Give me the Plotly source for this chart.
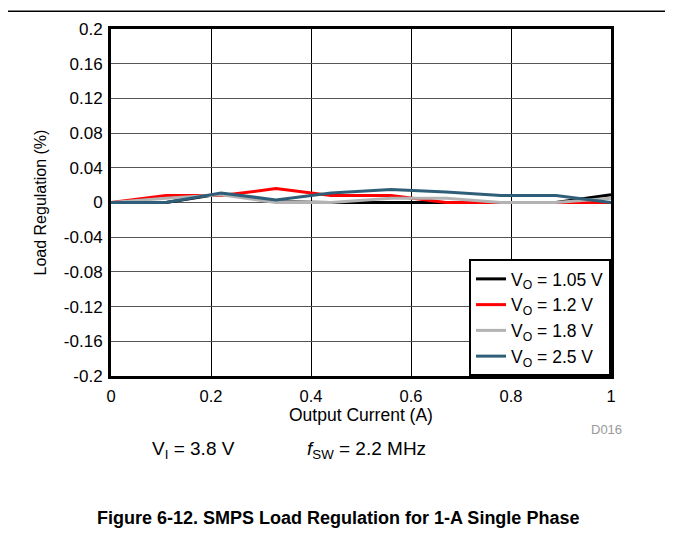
import plotly.graph_objects as go

# output current (A)
current = [0, 0.11, 0.22, 0.33, 0.44, 0.56, 0.67, 0.78, 0.89, 1.0]

# load regulation (%) per output voltage
reg_105 = [0, 0, 0.010, 0.001, 0, 0, 0, 0, 0, 0.009]
reg_12 = [0, 0.008, 0.008, 0.016, 0.008, 0.008, 0, 0, 0, 0]
reg_18 = [0, 0.005, 0.009, 0, 0, 0.005, 0.005, 0, 0, 0.005]
reg_25 = [0, 0, 0.011, 0.003, 0.011, 0.015, 0.012, 0.008, 0.008, 0]

series_names = ['V<sub>O</sub> = 1.05 V', 'V<sub>O</sub> = 1.2 V',
                'V<sub>O</sub> = 1.8 V', 'V<sub>O</sub> = 2.5 V']
series_colors = ['#000000', '#ff0000', '#b3b3b3', '#2f5f78']

y_ticks = [0.2, 0.16, 0.12, 0.08, 0.04, 0, -0.04, -0.08, -0.12, -0.16, -0.2]
y_labels = ['0.2', '0.16', '0.12', '0.08', '0.04', '0', '-0.04', '-0.08',
            '-0.12', '-0.16', '-0.2']
x_ticks = [0, 0.2, 0.4, 0.6, 0.8, 1]
x_labels = ['0', '0.2', '0.4', '0.6', '0.8', '1']

FONT = 'Arial, Liberation Sans, sans-serif'

fig = go.Figure()
for ys, name, color in zip([reg_105, reg_12, reg_18, reg_25], series_names, series_colors):
    fig.add_trace(go.Scatter(x=current, y=ys, mode='lines', name=name,
                             line=dict(color=color, width=3)))

fig.update_xaxes(range=[0, 1], tickvals=x_ticks, ticktext=x_labels,
                 showgrid=True, gridcolor='#000000', gridwidth=1,
                 showline=True, linecolor='#000000', linewidth=3, mirror=True,
                 zeroline=False, ticks='', ticklabelstandoff=3,
                 tickfont=dict(size=16.5, color='#000'))
fig.update_yaxes(range=[-0.2, 0.2], tickvals=y_ticks, ticktext=y_labels,
                 showgrid=True, gridcolor='#555555', gridwidth=1,
                 showline=True, linecolor='#000000', linewidth=3, mirror=True,
                 zeroline=False, ticks='', ticklabelstandoff=2,
                 tickfont=dict(size=17, color='#000'))

# positions below are page pixels converted to paper coords (plot 111..611, 22..376)
annotations = [
    dict(text='Output Current (A)', x=0.5, y=(376 - 416) / 354, font_size=17.5),
    dict(text='Load Regulation (%)', x=(40 - 111) / 500, y=0.5, textangle=-90,
         font_size=16),
    dict(text='D016', x=(606 - 111) / 500, y=(376 - 431) / 354, font_size=13,
         font_color='#999999'),
    dict(text='V<sub>I</sub> = 3.8 V', x=(193 - 111) / 500, y=(376 - 452) / 354,
         font_size=19),
    dict(text='<i>f</i><sub>SW</sub> = 2.2 MHz', x=(366 - 111) / 500,
         y=(376 - 452) / 354, font_size=19),
    dict(text='<b>Figure 6-12. SMPS Load Regulation for 1-A Single Phase</b>',
         x=(338 - 111) / 500, y=(376 - 521) / 354, font_size=18),
]
for a in annotations:
    a.update(xref='paper', yref='paper', showarrow=False,
             xanchor='center', yanchor='middle')
    a.setdefault('font_color', '#000000')

# page body has an 8px margin, so the figure is 8px smaller and offset
fig.update_layout(
    width=665, height=542,
    margin=dict(l=103, r=62, t=14, b=174),
    paper_bgcolor='white', plot_bgcolor='white',
    font=dict(family=FONT, color='#000000'),
    showlegend=True,
    legend=dict(x=1, y=0, xanchor='right', yanchor='bottom',
                bgcolor='white', bordercolor='#000000', borderwidth=2,
                font=dict(size=17.5), tracegroupgap=0, itemwidth=30),
    annotations=annotations,
    shapes=[
        dict(type='line', xref='paper', yref='paper', x0=-0.3, x1=1.2,
             y0=(376 - 4) / 354, y1=(376 - 4) / 354,
             line=dict(color='#000000', width=1.5)),
        dict(type='line', xref='paper', yref='paper',
             x0=(671 - 111) / 500, x1=(671 - 111) / 500,
             y0=-0.6, y1=1.1, line=dict(color='#000000', width=1.5)),
    ],
)

fig.write_html('out.html')
